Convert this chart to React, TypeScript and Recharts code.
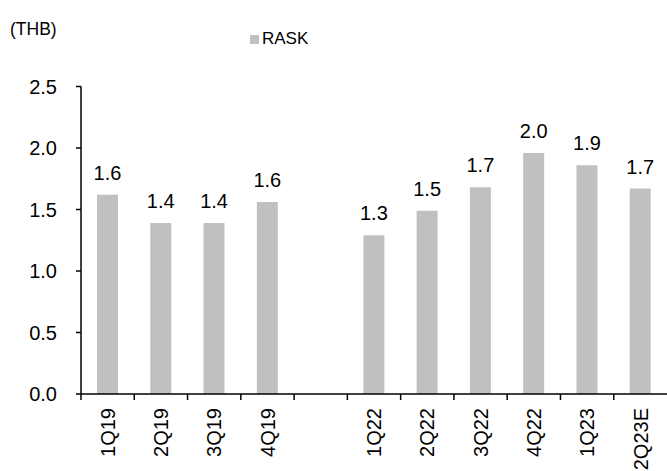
import { Bar, BarChart, LabelList, XAxis, YAxis } from 'recharts';

const categories = ['1Q19', '2Q19', '3Q19', '4Q19', '', '1Q22', '2Q22', '3Q22', '4Q22', '1Q23', '2Q23E'];
const raskValues = [1.62, 1.39, 1.39, 1.56, null, 1.29, 1.49, 1.68, 1.96, 1.86, 1.67];
const yTicks = [0, 0.5, 1.0, 1.5, 2.0, 2.5];

const data = categories.map((c, i) => ({ quarter: c, rask: raskValues[i] }));

const FONT = '"Liberation Sans", Arial, sans-serif';

// tick lines sit on the category boundaries, labels are rotated upwards
function QuarterTick(props: any) {
  const { x, y, payload } = props;
  const half = payload?.offset ?? 586 / 11 / 2;
  return (
    <g transform={`translate(${x},${y})`}>
      <line x1={-half} y1={0} x2={-half} y2={6} stroke="#000" strokeWidth={1.5} />
      {payload.value && (
        <text
          transform="rotate(-90)"
          x={-14}
          y={0}
          dy="0.36em"
          textAnchor="end"
          fontSize={20}
          fontFamily={FONT}
          fill="#000"
        >
          {payload.value}
        </text>
      )}
    </g>
  );
}

export default function App() {
  return (
    <div style={{ position: 'absolute', left: 0, top: 0, width: 667, height: 471, fontFamily: FONT }}>
      <div style={{ position: 'absolute', left: 10, top: 20, fontSize: 17.5, lineHeight: '18px', color: '#000' }}>
        (THB)
      </div>
      <div
        style={{
          position: 'absolute',
          left: 250,
          top: 30,
          display: 'flex',
          alignItems: 'center',
          fontSize: 17,
          lineHeight: '18px',
          color: '#000',
        }}
      >
        <span style={{ display: 'inline-block', width: 9, height: 9, background: '#c0c0c0', marginRight: 3 }} />
        RASK
      </div>
      <BarChart width={667} height={471} data={data} margin={{ top: 86.5, right: 0, left: 0, bottom: 0 }}>
        <XAxis
          dataKey="quarter"
          interval={0}
          height={77}
          tickLine={false}
          tickSize={0}
          tickMargin={0}
          axisLine={{ stroke: '#000', strokeWidth: 1.5 }}
          tick={<QuarterTick />}
        />
        <YAxis
          width={81}
          domain={[0, 2.5]}
          ticks={yTicks}
          interval={0}
          tickFormatter={(v: number) => v.toFixed(1)}
          tickSize={5}
          tickMargin={19}
          axisLine={{ stroke: '#000', strokeWidth: 1.5 }}
          tickLine={{ stroke: '#000', strokeWidth: 1.5 }}
          tick={{ fontSize: 20, fill: '#000', fontFamily: FONT }}
        />
        <Bar dataKey="rask" name="RASK" fill="#c0c0c0" barSize={21} isAnimationActive={false}>
          <LabelList
            dataKey="rask"
            position="top"
            offset={15}
            formatter={(v: any) => (v == null ? '' : Number(v).toFixed(1))}
            style={{ fontSize: 20, fill: '#000', fontFamily: FONT }}
          />
        </Bar>
      </BarChart>
    </div>
  );
}
